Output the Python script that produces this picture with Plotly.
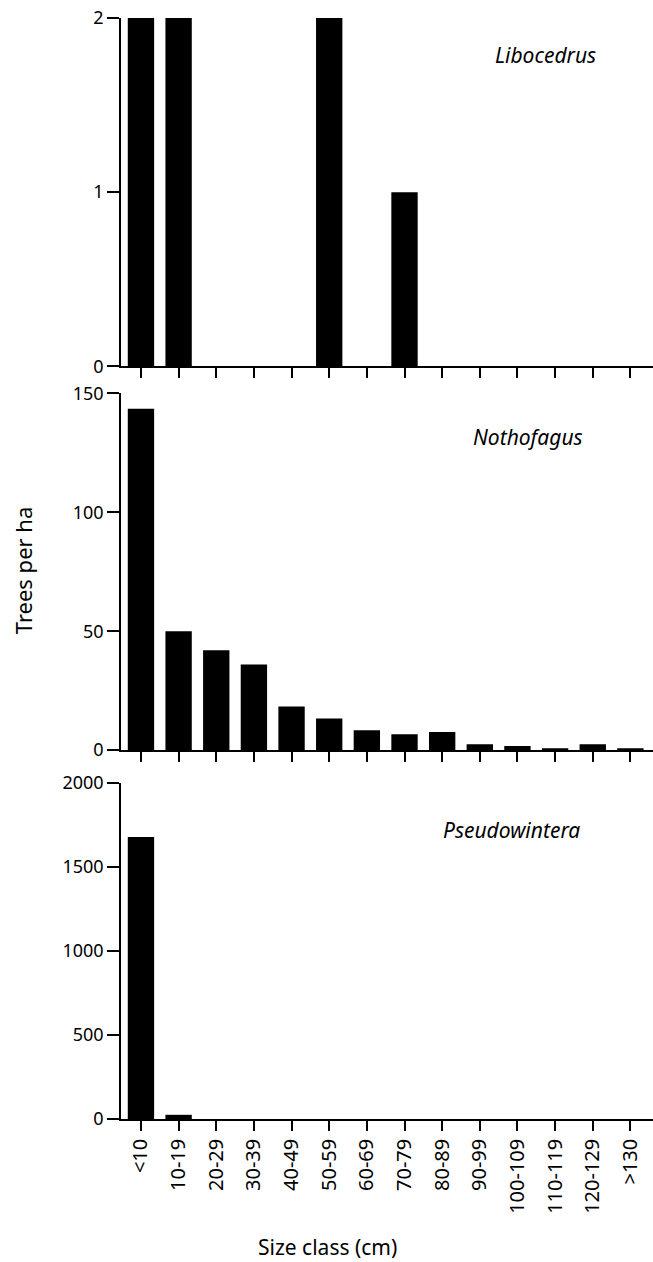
import plotly.graph_objects as go

categories = ["<10", "10-19", "20-29", "30-39", "40-49", "50-59", "60-69",
              "70-79", "80-89", "90-99", "100-109", "110-119", "120-129", ">130"]
libocedrus = [2, 2, 0, 0, 0, 2, 0, 1, 0, 0, 0, 0, 0, 0]
nothofagus = [143.5, 50, 42, 36, 18.4, 13.3, 8.4, 6.7, 7.6, 2.5, 1.7, 0.8, 2.5, 0.8]
pseudowintera = [1680, 25, 0, 0, 0, 0, 0, 0, 0, 0, 0, 0, 0, 0]

species = ["Libocedrus", "Nothofagus", "Pseudowintera"]
y_ticks = [[0, 1, 2], [0, 50, 100, 150], [0, 500, 1000, 1500, 2000]]
y_ranges = [[0, 2], [0, 150], [0, 2000]]

FONT = "Noto Sans"
W, H = 653, 1262
ML, MR, MT, MB = 121, 0, 17.5, 1262 - 1119
PW = W - ML - MR
PH = H - MT - MB


def py(pix):
    return (H - MB - pix) / PH


def px(pix):
    return (pix - ML) / PW


domains = [[py(366), 1.0], [py(750), py(393)], [0.0, py(783)]]

fig = go.Figure()
series = [libocedrus, nothofagus, pseudowintera]
for i, vals in enumerate(series):
    sfx = "" if i == 0 else str(i + 1)
    fig.add_trace(go.Bar(
        x=categories, y=vals, width=0.7,
        marker=dict(color="black", line=dict(width=0)),
        xaxis="x" + sfx, yaxis="y" + sfx, showlegend=False,
    ))

layout = dict(
    width=W, height=H,
    margin=dict(l=ML, r=MR, t=MT, b=MB, autoexpand=False),
    plot_bgcolor="white", paper_bgcolor="white",
    font=dict(family=FONT, size=16, color="black"),
    showlegend=False,
)
for i in range(3):
    sfx = "" if i == 0 else str(i + 1)
    layout["xaxis" + sfx] = dict(
        type="category", categoryorder="array", categoryarray=categories,
        range=[-0.53, 13.6], domain=[0, 1], anchor="y" + sfx,
        showline=True, linecolor="black", linewidth=1.5,
        ticks="outside", ticklen=10, tickwidth=1.5, tickcolor="black",
        showgrid=False, zeroline=False,
        showticklabels=(i == 2), tickangle=-90,
        tickfont=dict(family=FONT, size=20, color="black"),
        ticklabeloverflow="allow",
        automargin=False,
    )
    layout["yaxis" + sfx] = dict(
        domain=domains[i], range=y_ranges[i], anchor="x" + sfx,
        tickmode="array", tickvals=y_ticks[i],
        showline=True, linecolor="black", linewidth=1.5,
        ticks="outside", ticklen=12, tickwidth=1.5, tickcolor="black",
        showgrid=False, zeroline=False,
        tickfont=dict(family=FONT, size=18, color="black"),
        ticklabeloverflow="allow",
        automargin=False,
    )
fig.update_layout(**layout)

label_pos = [(598, 55), (585, 437), (582, 830)]
for name, (xr, yc) in zip(species, label_pos):
    fig.add_annotation(
        text="<i>" + name + "</i>", xref="paper", yref="paper",
        x=px(xr), y=py(yc), xanchor="right", yanchor="middle",
        showarrow=False, font=dict(family=FONT, size=21, color="black"),
    )

fig.add_annotation(
    text="Trees per ha", xref="paper", yref="paper",
    x=px(23), y=py(570), xanchor="center", yanchor="middle",
    textangle=-90, showarrow=False,
    font=dict(family=FONT, size=22, color="black"),
)
fig.add_annotation(
    text="Size class (cm)", xref="paper", yref="paper",
    x=px(327), y=py(1247), xanchor="center", yanchor="middle",
    showarrow=False, font=dict(family=FONT, size=21, color="black"),
)

fig.write_html(
    "out.html",
    config={"displayModeBar": False},
    post_script="document.body.style.margin='0';document.body.style.overflow='hidden';",
)
